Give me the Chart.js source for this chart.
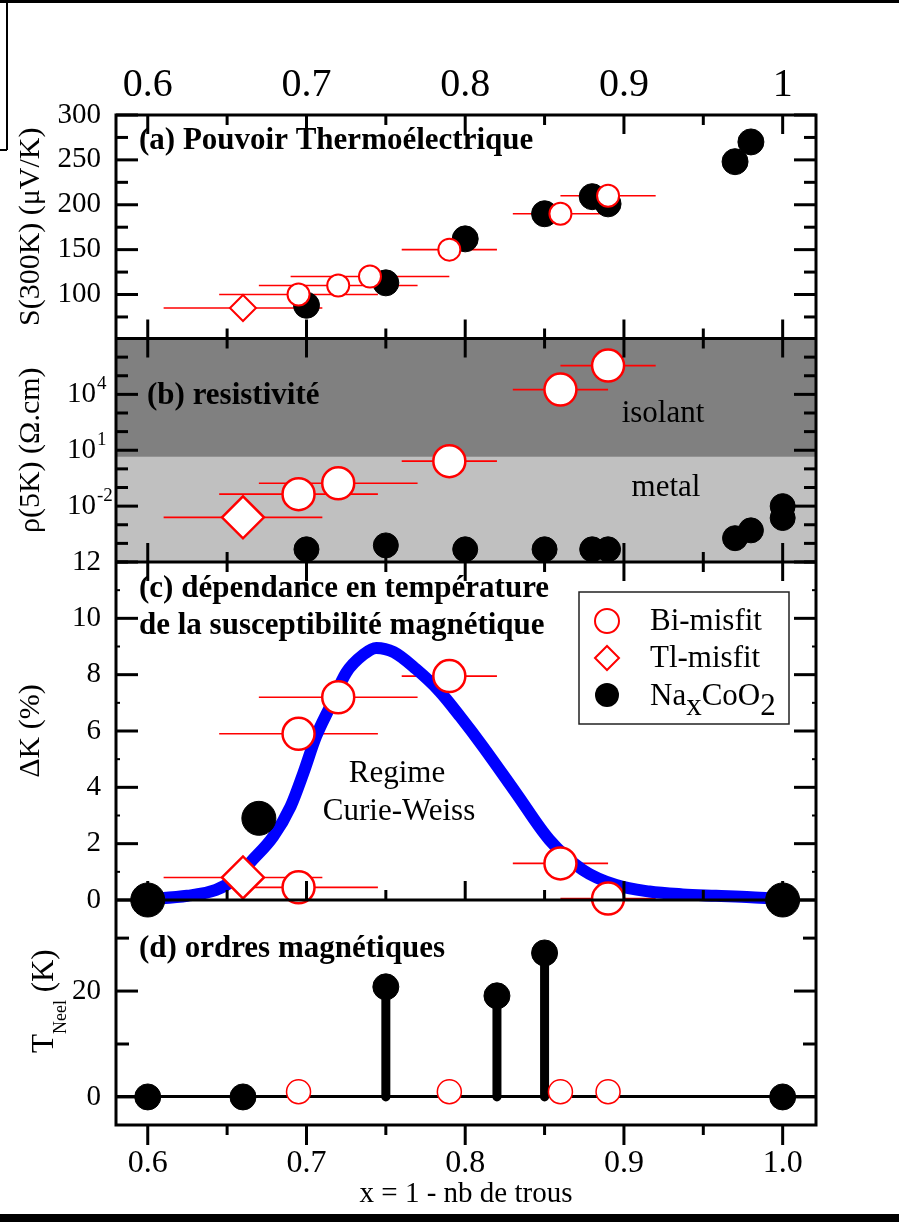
<!DOCTYPE html>
<html lang="fr">
<head>
<meta charset="utf-8">
<title>NaxCoO2 et misfits</title>
<script src="https://cdn.jsdelivr.net/npm/chart.js@4.4.1/dist/chart.umd.min.js"></script>
<style>
  html, body { margin: 0; padding: 0; background: #fff; }
  canvas { display: block; }
</style>
</head>
<body>
<canvas id="graphique" width="899" height="1222"></canvas>
<script>
// Donnees (x = 1 - nb de trous)

// axes
const xMin = 0.58, xMax = 1.021;
const xTicks = [0.6, 0.65, 0.7, 0.75, 0.8, 0.85, 0.9, 0.95, 1.0];
const sTicks = [75, 100, 125, 150, 175, 200, 225, 250, 275, 300];
const rhoTicks = [1e-5, 1e-4, 1e-3, 1e-2, 1e-1, 1, 1e1, 1e2, 1e3, 1e4, 1e5, 1e6, 1e7];
const rhoLabelExp = [4, 1, -2];
const dkTicks = [0, 1, 2, 3, 4, 5, 6, 7, 8, 9, 10, 11, 12];
const tnTicks = [0, 10, 20, 30];
const limiteMetal = 4.4; // frontiere isolant / metal

// (a) pouvoir thermoelectrique S(300K)
const biX_a = [0.695, 0.72, 0.74, 0.79, 0.86, 0.89];
const biS = [100, 110, 120, 150, 190, 210];
const biErr_a = [0.05, 0.05, 0.05, 0.03, 0.03, 0.03];
const tlX = [0.66];
const tlS = [85];
const tlErr = [0.05];
const naX_a = [0.70, 0.75, 0.80, 0.85, 0.88, 0.89, 0.97, 0.98];
const naS = [88, 113, 162, 190, 209, 201, 248, 270];

// (b) resistivite rho(5K)
const biX_b = [0.695, 0.72, 0.79, 0.86, 0.89];
const biRho = [0.044, 0.17, 2.6, 1.8e4, 3.5e5];
const biErr_b = [0.05, 0.05, 0.03, 0.03, 0.03];
const tlRho = [0.0025];
const naX_b = [0.70, 0.75, 0.80, 0.85, 0.88, 0.89, 0.97, 0.98, 1.0, 1.0];
const naRho = [4.8e-5, 7.8e-5, 4.8e-5, 4.8e-5, 4.8e-5, 4.8e-5, 1.9e-4, 5e-4, 1e-2, 2.3e-3];

// (c) susceptibilite, Delta K (%)
const biX_c = [0.695, 0.72, 0.79, 0.86, 0.89, 0.695];
const biDK = [5.9, 7.2, 7.95, 1.3, 0.05, 0.45];
const biErr_c = [0.05, 0.05, 0.03, 0.03, 0.03, 0.05];
const tlDK = [0.8];
const naX_c = [0.6, 0.67, 1.0];
const naDK = [0, 2.9, 0];
const courbeX = [0.600, 0.625, 0.643, 0.654, 0.666, 0.679, 0.690, 0.698, 0.706, 0.715, 0.725, 0.736, 0.744,
                 0.755, 0.769, 0.784, 0.797, 0.811, 0.832, 0.853, 0.874, 0.895, 0.916, 0.937, 0.958, 0.980, 1.000];
const courbeDK = [0.03, 0.15, 0.36, 0.71, 1.42, 2.25, 3.32, 4.5, 5.8, 6.88, 8.07, 8.72, 8.95,
                  8.8, 8.2, 7.4, 6.5, 5.46, 3.8, 2.14, 1.07, 0.53, 0.3, 0.2, 0.15, 0.1, 0.03];

// (d) ordres magnetiques T_Neel (K)
const naX_d = [0.6, 0.66, 1.0];
const naTN = [0, 0, 0];
const biX_d = [0.695, 0.79, 0.86, 0.89];
const biTN = [1, 1, 1, 1];
const tigeX = [0.75, 0.82, 0.85];
const tigeTN = [20.8, 19.1, 27.2];


const TIMES = "'Liberation Serif', 'Times New Roman', serif";
const rouge = '#ff0000';
Chart.defaults.font.family = TIMES;
Chart.defaults.color = '#000';

const pts = (xs, ys) => xs.map((x, i) => ({ x: x, y: ys[i] }));
const estMajeurX = v => Math.round(v * 100) % 10 === 0;
const exposant = v => Math.round(Math.log10(v));

function marqueur(label, data, axe, style, r, fond, bord, bw, ordre) {
    return {
        label: label, data: data, xAxisID: 'x', yAxisID: axe,
        pointStyle: style, pointRadius: r, pointHoverRadius: r,
        pointBackgroundColor: fond, pointBorderColor: bord, pointBorderWidth: bw,
        showLine: false, order: ordre, clip: false
    };
}

const tigesData = [];
tigeX.forEach((x, i) => { tigesData.push({ x: x, y: 0 }, { x: x, y: tigeTN[i] }, { x: x, y: null }); });

const datasets = [
    // (a)
    Object.assign(marqueur('Bi-misfit', pts(biX_a, biS), 'ya', 'circle', 11, '#fff', rouge, 2, 0), { xErr: biErr_a }),
    Object.assign(marqueur('Tl-misfit', pts(tlX, tlS), 'ya', 'rectRot', 13, '#fff', rouge, 2, 0), { xErr: tlErr }),
    marqueur('NaxCoO2', pts(naX_a, naS), 'ya', 'circle', 13, '#000', '#000', 1, 1),
    // (b)
    Object.assign(marqueur('Bi-misfit', pts(biX_b, biRho), 'yb', 'circle', 16, '#fff', rouge, 2.5, 0), { xErr: biErr_b }),
    Object.assign(marqueur('Tl-misfit', pts(tlX, tlRho), 'yb', 'rectRot', 21, '#fff', rouge, 2.5, 0), { xErr: tlErr }),
    marqueur('NaxCoO2', pts(naX_b, naRho), 'yb', 'circle', 12.5, '#000', '#000', 1, 1),
    // (c)
    Object.assign(marqueur('Bi-misfit', pts(biX_c, biDK), 'yc', 'circle', 16, '#fff', rouge, 2.5, 0), { xErr: biErr_c }),
    Object.assign(marqueur('Tl-misfit', pts(tlX, tlDK), 'yc', 'rectRot', 21, '#fff', rouge, 2.5, 0), { xErr: tlErr }),
    marqueur('NaxCoO2', pts(naX_c, naDK), 'yc', 'circle', 17, '#000', '#000', 1, 1),
    {
        label: 'Curie-Weiss', data: pts(courbeX, courbeDK), xAxisID: 'x', yAxisID: 'yc',
        showLine: true, pointRadius: 0, borderColor: '#0000ff', borderWidth: 12,
        cubicInterpolationMode: 'monotone', borderJoinStyle: 'round', order: 4, clip: false
    },
    // (d)
    marqueur('Bi-misfit', pts(biX_d, biTN), 'yd', 'circle', 12, '#fff', rouge, 1.5, 0),
    marqueur('NaxCoO2', pts(naX_d, naTN), 'yd', 'circle', 13, '#000', '#000', 1, 1),
    marqueur('NaxCoO2', pts(tigeX, tigeTN), 'yd', 'circle', 13, '#000', '#000', 1, 1),
    {
        label: 'tiges', data: tigesData, xAxisID: 'x', yAxisID: 'yd',
        showLine: true, spanGaps: false, pointRadius: 0, borderColor: '#000', borderWidth: 9,
        borderCapStyle: 'round', order: 3, clip: false
    }
];

function axeY(opts) {
    return Object.assign({
        position: 'left', stack: 'panneaux', offset: false,
        grid: { display: false, drawTicks: false }, border: { display: false },
        afterFit: s => { s.width = 116; }
    }, opts);
}

// tics vers l'interieur, cadre, textes, legende
function trait(ctx, x0, y0, x1, y1, w) {
    ctx.lineWidth = w;
    ctx.beginPath(); ctx.moveTo(x0, y0); ctx.lineTo(x1, y1); ctx.stroke();
}

const decor = {
    id: 'decor',
    beforeDatasetsDraw(chart) {
        const { ctx, chartArea, scales } = chart;
        const yb = scales.yb;
        const yLim = yb.getPixelForValue(limiteMetal);
        ctx.save();
        ctx.fillStyle = '#808080';
        ctx.fillRect(chartArea.left, yb.top, chartArea.width, yLim - yb.top);
        ctx.fillStyle = '#c0c0c0';
        ctx.fillRect(chartArea.left, yLim, chartArea.width, yb.bottom - yLim);
        // barres d'erreur horizontales
        ctx.strokeStyle = rouge;
        chart.data.datasets.forEach((ds, i) => {
            if (!ds.xErr) return;
            const meta = chart.getDatasetMeta(i);
            ds.data.forEach((p, j) => {
                const el = meta.data[j];
                const x0 = scales.x.getPixelForValue(p.x - ds.xErr[j]);
                const x1 = scales.x.getPixelForValue(p.x + ds.xErr[j]);
                trait(ctx, x0, el.y, x1, el.y, 1.6);
            });
        });
        ctx.restore();
    },
    afterDatasetsDraw(chart) {
        const { ctx, chartArea, scales } = chart;
        const L = chartArea.left, R = chartArea.right;
        ctx.save();
        ctx.strokeStyle = '#000';
        ctx.lineCap = 'butt';

        const panneaux = [
            { s: scales.ya, haut: true, bas: true, maj: v => v % 50 === 0, lMaj: 22, lMin: 12, wMin: 3 },
            { s: scales.yb, haut: true, bas: true, maj: v => rhoLabelExp.includes(exposant(v)), lMaj: 22, lMin: 12, wMin: 3 },
            { s: scales.yc, haut: true, bas: true, maj: v => v % 2 === 0, lMaj: 22, lMin: 4, wMin: 2 },
            { s: scales.yd, haut: false, bas: false, maj: v => v % 20 === 0, lMaj: 22, lMin: 13, wMin: 3 }
        ];
        panneaux.forEach(p => {
            p.s.ticks.forEach(t => {
                const y = p.s.getPixelForValue(t.value);
                const majeur = p.maj(t.value);
                const l = majeur ? p.lMaj : p.lMin;
                const w = majeur ? 3 : p.wMin;
                trait(ctx, L, y, L + l, y, w);
                trait(ctx, R - l, y, R, y, w);
            });
            scales.x.ticks.forEach(t => {
                const x = scales.x.getPixelForValue(t.value);
                const l = estMajeurX(t.value) ? 19 : 10;
                if (p.haut) trait(ctx, x, p.s.top, x, p.s.top + l, 3);
                if (p.bas) trait(ctx, x, p.s.bottom, x, p.s.bottom - l, 3);
            });
        });
        // tics exterieurs en bas
        scales.x.ticks.forEach(t => {
            const x = scales.x.getPixelForValue(t.value);
            const l = estMajeurX(t.value) ? 20 : 10;
            trait(ctx, x, chartArea.bottom, x, chartArea.bottom + l, 3);
        });

        // exposants des etiquettes "10" de l'axe log
        ctx.fillStyle = '#000';
        ctx.textAlign = 'left';
        ctx.textBaseline = 'alphabetic';
        ctx.font = '19px ' + TIMES;
        scales.yb.ticks.forEach(t => {
            const e = exposant(t.value);
            if (!rhoLabelExp.includes(e)) return;
            ctx.fillText(String(e), 97, scales.yb.getPixelForValue(t.value) - 5);
        });

        // cadre
        ctx.lineWidth = 3;
        ctx.strokeRect(L, chartArea.top, R - L, chartArea.bottom - chartArea.top);
        [scales.ya.bottom, scales.yb.bottom, scales.yc.bottom].forEach(y => trait(ctx, L, y, R, y, 3));

        // textes
        ctx.font = 'bold 31px ' + TIMES;
        ctx.fillText('(a) Pouvoir Thermoélectrique', 139, 149);
        ctx.fillText('(b) resistivité', 147, 404);
        ctx.fillText('(c) dépendance en température', 139, 597);
        ctx.fillText('de la susceptibilité magnétique', 139, 634);
        ctx.fillText('(d) ordres magnétiques', 139, 957);
        ctx.textAlign = 'center';
        ctx.font = '31px ' + TIMES;
        ctx.fillText('isolant', 663, 422);
        ctx.fillText('metal', 666, 496);
        ctx.fillText('Regime', 397, 782);
        ctx.fillText('Curie-Weiss', 399, 820);

        // legende
        ctx.lineWidth = 1.5;
        ctx.strokeStyle = '#222';
        ctx.strokeRect(579, 592, 210, 132);
        ctx.lineWidth = 2;
        ctx.strokeStyle = rouge;
        ctx.fillStyle = '#fff';
        ctx.beginPath(); ctx.arc(607, 621, 12, 0, 2 * Math.PI); ctx.fill(); ctx.stroke();
        ctx.beginPath();
        ctx.moveTo(595, 658); ctx.lineTo(607, 646); ctx.lineTo(619, 658); ctx.lineTo(607, 670);
        ctx.closePath(); ctx.fill(); ctx.stroke();
        ctx.fillStyle = '#000';
        ctx.beginPath(); ctx.arc(607, 695, 12, 0, 2 * Math.PI); ctx.fill();
        ctx.textAlign = 'left';
        ctx.fillText('Bi-misfit', 650, 630);
        ctx.fillText('Tl-misfit', 650, 667);
        let xt = 650;
        [['Na', 0], ['x', 10], ['CoO', 0], ['2', 10]].forEach(([txt, dy]) => {
            ctx.fillText(txt, xt, 705 + dy);
            xt += ctx.measureText(txt).width;
        });

        // titre de l'axe (d) avec indice
        ctx.save();
        ctx.translate(53, 1003);
        ctx.rotate(-Math.PI / 2);
        ctx.font = '31px ' + TIMES;
        ctx.fillText('T', -50, 0);
        let xx = -50 + ctx.measureText('T').width;
        ctx.font = '18px ' + TIMES;
        ctx.fillText('Neel', xx, 13);
        xx += ctx.measureText('Neel').width;
        ctx.font = '31px ' + TIMES;
        ctx.fillText(' (K)', xx, 0);
        ctx.restore();

        // bords de la page
        ctx.fillStyle = '#000';
        ctx.fillRect(0, 0, chart.width, 3);
        ctx.fillRect(0, 1214, chart.width, 8);
        ctx.strokeStyle = '#000';
        trait(ctx, 7, 0, 7, 150, 2);
        trait(ctx, 0, 150, 7, 150, 2);
        ctx.restore();
    }
};

new Chart(document.getElementById('graphique'), {
    type: 'scatter',
    data: { datasets: datasets },
    options: {
        responsive: false,
        animation: false,
        devicePixelRatio: 1,
        events: [],
        layout: { padding: { left: 0, right: 83, top: 0, bottom: 0 } },
        plugins: { legend: { display: false }, tooltip: { enabled: false } },
        scales: {
            x: {
                type: 'linear', position: 'bottom', min: xMin, max: xMax, offset: false,
                grid: { display: false, drawTicks: false }, border: { display: false },
                afterBuildTicks: s => { s.ticks = xTicks.map(v => ({ value: v })); },
                afterFit: s => { s.height = 97; },
                ticks: {
                    autoSkip: false, maxRotation: 0, padding: 19, font: { size: 32 },
                    callback: v => estMajeurX(v) ? v.toFixed(1) : ''
                },
                title: { display: true, text: 'x = 1 - nb de trous', font: { size: 29 }, padding: { top: 0, bottom: 10 } }
            },
            x2: {
                type: 'linear', position: 'top', min: xMin, max: xMax, offset: false,
                grid: { display: false, drawTicks: false }, border: { display: false },
                afterBuildTicks: s => { s.ticks = xTicks.map(v => ({ value: v })); },
                afterFit: s => { s.height = 115; },
                ticks: {
                    autoSkip: false, maxRotation: 0, padding: 6, font: { size: 40 },
                    callback: v => estMajeurX(v) ? (v === 1 ? '1' : v.toFixed(1)) : ''
                }
            },
            ya: axeY({
                type: 'linear', weight: 4, stackWeight: 223.5, min: 51, max: 300,
                afterBuildTicks: s => { s.ticks = sTicks.map(v => ({ value: v })); },
                ticks: { autoSkip: false, padding: 15, font: { size: 29 }, callback: v => (v >= 100 && v % 50 === 0) ? String(v) : '' },
                title: { display: true, text: 'S(300K) (μV/K)', font: { size: 30 }, padding: { top: 13, bottom: 0 } }
            }),
            yb: axeY({
                type: 'logarithmic', weight: 3, stackWeight: 223.5, min: 1e-5, max: 1e7,
                afterBuildTicks: s => { s.ticks = rhoTicks.map(v => ({ value: v })); },
                ticks: {
                    autoSkip: false, padding: 20, font: { size: 29 },
                    callback: v => rhoLabelExp.includes(exposant(v)) ? '10' : ''
                },
                title: { display: true, text: 'ρ(5K) (Ω.cm)', font: { size: 30 }, padding: { top: 13, bottom: 0 } }
            }),
            yc: axeY({
                type: 'linear', weight: 2, stackWeight: 338, min: 0, max: 12,
                afterBuildTicks: s => { s.ticks = dkTicks.map(v => ({ value: v })); },
                ticks: { autoSkip: false, padding: 15, font: { size: 29 }, callback: v => v % 2 === 0 ? String(v) : '' },
                title: { display: true, text: 'ΔK (%)', font: { size: 30 }, padding: { top: 13, bottom: 0 } }
            }),
            yd: axeY({
                type: 'linear', weight: 1, stackWeight: 225, min: -5.3, max: 37.2,
                afterBuildTicks: s => { s.ticks = tnTicks.map(v => ({ value: v })); },
                grid: {
                    display: true, drawTicks: false, drawOnChartArea: true, lineWidth: 3,
                    color: c => (c.tick && c.tick.value === 0) ? '#000' : 'rgba(0,0,0,0)'
                },
                ticks: { autoSkip: false, padding: 15, font: { size: 29 }, callback: v => v % 20 === 0 ? String(v) : '' },
                title: { display: false }
            })
        }
    },
    plugins: [decor]
});
</script>
</body>
</html>
